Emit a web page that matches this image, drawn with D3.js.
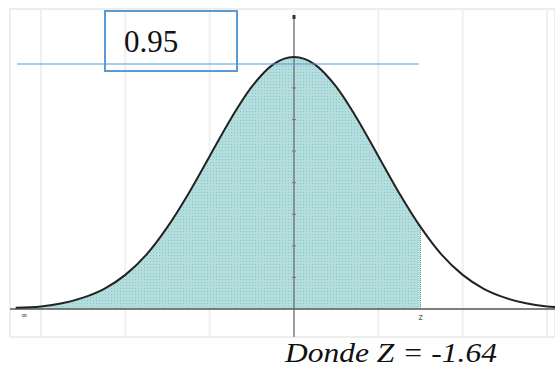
<!DOCTYPE html>
<html>
<head>
<meta charset="utf-8">
<script src="https://cdn.jsdelivr.net/npm/d3@7"></script>
<style>
  html, body { margin: 0; padding: 0; background: #fff; }
  svg { display: block; }
  .serif { font-family: "Liberation Serif", "Times New Roman", "DejaVu Serif", serif; }
</style>
</head>
<body>
<div id="chart"></div>
<script>
// === DATA ===
// z values and the curve height
const zValues = [-3.3, -3, -2.75, -2.5, -2.25, -2, -1.75, -1.5, -1.25, -1, -0.75, -0.5, -0.25,
    0, 0.25, 0.5, 0.75, 1, 1.25, 1.5, 1.75, 2, 2.25, 2.5, 2.75, 3, 3.25];
const density = [0.002, 0.004, 0.009, 0.018, 0.032, 0.054, 0.086, 0.130, 0.183, 0.242, 0.301, 0.352, 0.387,
    0.399, 0.387, 0.352, 0.301, 0.242, 0.183, 0.130, 0.086, 0.054, 0.032, 0.018, 0.009, 0.004, 0.002];
const gridTicks = [-3, -2, -1, 0, 1, 2, 3];
const yTicks = [0.05, 0.1, 0.15, 0.2, 0.25, 0.3, 0.35];
const zCut = 1.5;
const areaLabel = "0.95";
const caption = "Donde Z = -1.64";

const width = 555, height = 367;
const plot = { left: 10, right: 555, top: 9, bottom: 337 };

const svg = d3.select("#chart").append("svg")
    .attr("width", width)
    .attr("height", height);

// === SCALES ===
const x = d3.scaleLinear().domain([-3, 3]).range([41, 547]);
const y = d3.scaleLinear().domain([0, 0.399]).range([309, 57]);

const points = zValues.map((z, i) => ({ z, d: density[i] }));

// === BACKGROUND + GRID ===
svg.append("rect")
    .attr("x", plot.left).attr("y", plot.top)
    .attr("width", plot.right - plot.left).attr("height", plot.bottom - plot.top)
    .attr("fill", "#fff")
    .attr("stroke", "#e8e8e8").attr("stroke-width", 1.5);

svg.selectAll(".grid")
    .data(gridTicks)
    .join("line")
    .attr("class", "grid")
    .attr("x1", d => x(d)).attr("x2", d => x(d))
    .attr("y1", plot.top).attr("y2", plot.bottom)
    .attr("stroke", "#efefef")
    .attr("stroke-width", 2);

// dotted pattern for the shaded area
const defs = svg.append("defs");
const pat = defs.append("pattern")
    .attr("id", "dots")
    .attr("width", 3).attr("height", 3)
    .attr("patternUnits", "userSpaceOnUse");
pat.append("rect").attr("width", 3).attr("height", 3).attr("fill", "#b4dddd");
pat.append("rect").attr("width", 1).attr("height", 1).attr("fill", "#8cc5c6");

defs.append("clipPath").attr("id", "plot-clip")
    .append("rect")
    .attr("x", plot.left).attr("y", plot.top)
    .attr("width", plot.right - plot.left).attr("height", plot.bottom - plot.top);

const g = svg.append("g").attr("clip-path", "url(#plot-clip)");

// === SHADED AREA ===
const area = d3.area()
    .x(d => x(d.z))
    .y0(y(0))
    .y1(d => y(d.d))
    .curve(d3.curveMonotoneX);

g.append("path")
    .datum(points.filter(p => p.z <= zCut))
    .attr("d", area)
    .attr("fill", "url(#dots)");

// dotted z line
g.append("line")
    .attr("x1", x(zCut)).attr("x2", x(zCut))
    .attr("y1", y(0)).attr("y2", y(density[zValues.indexOf(zCut)]))
    .attr("stroke", "#5f9e9e")
    .attr("stroke-width", 1)
    .attr("stroke-dasharray", "1,1");

// === AXES ===
g.append("line")
    .attr("x1", plot.left).attr("x2", plot.right)
    .attr("y1", y(0)).attr("y2", y(0))
    .attr("stroke", "#555").attr("stroke-width", 1.5);

g.append("line")
    .attr("x1", x(0)).attr("x2", x(0))
    .attr("y1", 17).attr("y2", plot.bottom)
    .attr("stroke", "#666").attr("stroke-width", 1.2);

g.append("rect")
    .attr("x", x(0) - 1.5).attr("y", 15)
    .attr("width", 3).attr("height", 4)
    .attr("fill", "#333");

g.selectAll(".ytick")
    .data(yTicks)
    .join("line")
    .attr("class", "ytick")
    .attr("x1", x(0) - 2).attr("x2", x(0) + 2)
    .attr("y1", d => y(d)).attr("y2", d => y(d))
    .attr("stroke", "#777").attr("stroke-width", 1);

// === CURVE ===
const line = d3.line()
    .x(d => x(d.z))
    .y(d => y(d.d))
    .curve(d3.curveMonotoneX);

g.append("path")
    .datum(points)
    .attr("d", line)
    .attr("fill", "none")
    .attr("stroke", "#222")
    .attr("stroke-width", 2);

// small axis labels
svg.append("text")
    .attr("x", 24).attr("y", 318)
    .attr("text-anchor", "middle")
    .attr("font-family", "DejaVu Sans")
    .attr("font-size", 8)
    .attr("fill", "#555")
    .text("∞");

svg.append("text")
    .attr("x", x(zCut)).attr("y", 320)
    .attr("text-anchor", "middle")
    .attr("font-family", "DejaVu Sans")
    .attr("font-size", 8)
    .attr("fill", "#555")
    .text("z");

// === ANNOTATIONS ===
svg.append("line")
    .attr("x1", 17).attr("x2", 419)
    .attr("y1", 64).attr("y2", 64)
    .attr("stroke", "#5b9bd5").attr("stroke-width", 1.2);

svg.append("rect")
    .attr("x", 105).attr("y", 11)
    .attr("width", 132).attr("height", 60)
    .attr("fill", "none")
    .attr("stroke", "#5b9bd5").attr("stroke-width", 2);

svg.append("text")
    .attr("class", "serif")
    .attr("x", 124).attr("y", 52)
    .attr("font-size", 31)
    .attr("fill", "#111")
    .text(areaLabel);

svg.append("text")
    .attr("class", "serif")
    .attr("x", 285).attr("y", 362)
    .attr("font-style", "italic")
    .attr("font-size", 28)
    .attr("textLength", 212)
    .attr("lengthAdjust", "spacingAndGlyphs")
    .attr("fill", "#111")
    .text(caption);
</script>
</body>
</html>
